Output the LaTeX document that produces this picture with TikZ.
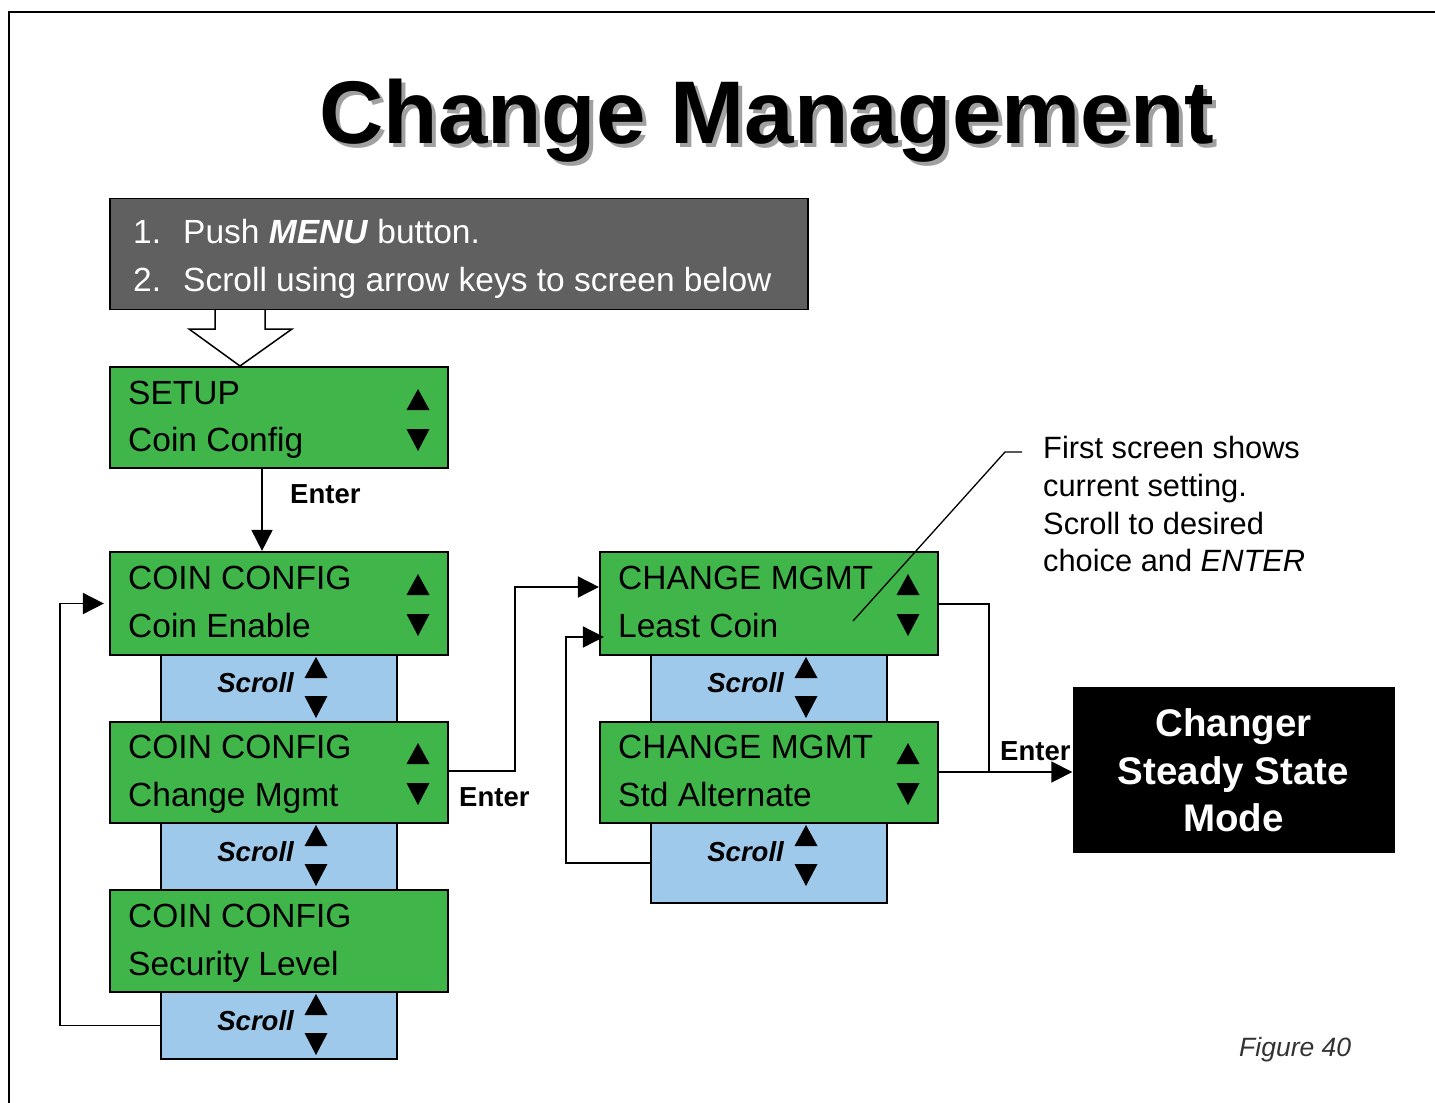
\documentclass[tikz,border=0pt]{standalone}
\usepackage{fontspec}
\setmainfont{Liberation Sans}
\usetikzlibrary{arrows.meta,calc}
\definecolor{lcdgreen}{RGB}{64,181,74}
\definecolor{scrollblue}{RGB}{159,201,235}
\definecolor{stepgray}{RGB}{96,96,96}
\definecolor{shadowgray}{RGB}{160,160,160}
\newcommand\uptri[2]{\fill (#1-11.5,#2+21) -- (#1+11.5,#2+21) -- (#1,#2) -- cycle;}
\newcommand\dntri[2]{\fill (#1-11.5,#2) -- (#1+11.5,#2) -- (#1,#2+22) -- cycle;}
\tikzset{
  lcdbox/.style={draw=black, line width=2.2pt, fill=lcdgreen, minimum width=338pt, inner sep=0pt},
  scrollbox/.style={draw=black, line width=1.8pt, fill=scrollblue, minimum width=236pt, inner sep=0pt},
  lcdtxt/.style={anchor=base west, inner sep=0pt, font=\fontsize{33.5}{40}\selectfont},
  scrolltxt/.style={anchor=base east, inner sep=0pt, font=\fontsize{27.5}{32}\selectfont\bfseries\itshape},
  entertxt/.style={anchor=base west, inner sep=0pt, font=\fontsize{27.5}{32}\selectfont\bfseries},
  conn/.style={draw=black, line width=1.8pt},
  arr/.style={conn, -{Triangle[length=21pt,width=21pt]}},
}
\begin{document}
\begin{tikzpicture}[x=1pt,y=-1pt]
\useasboundingbox (0,0) rectangle (1435,1103);
% frame
\draw[line width=1.8pt] (1435,12) -- (9,12) -- (9,1103);
% title
\node[anchor=base, inner sep=0pt, text=shadowgray, font=\fontsize{89}{100}\selectfont\bfseries] at (771,147) {Change Management};
\node (title) [anchor=base, inner sep=0pt, font=\fontsize{89}{100}\selectfont\bfseries] at (767,143) {Change Management};
% instruction box
\node (steps) [draw=black, line width=1.8pt, fill=stepgray, minimum width=698pt, minimum height=111pt, inner sep=0pt] at (459,254) {};
\node (s1n) [anchor=base west, inner sep=0pt, text=white, font=\fontsize{33.5}{40}\selectfont] at (133,243) {1.};
\node (s1t) [anchor=base west, inner sep=0pt, text=white, font=\fontsize{33.5}{40}\selectfont] at (183,243) {Push \textbf{\textit{MENU}} button.};
\node (s2n) [anchor=base west, inner sep=0pt, text=white, font=\fontsize{33.5}{40}\selectfont] at (133,291) {2.};
\node (s2t) [anchor=base west, inner sep=0pt, text=white, font=\fontsize{33.5}{40}\selectfont] at (183,291) {Scroll using arrow keys to screen below};
% hollow arrow
\draw[line width=1.5pt, fill=white] (215,310) -- (215,329) -- (189,329) -- (240,366) -- (292,329) -- (265,329) -- (265,310);
% scroll boxes (behind)
\node (b1) [scrollbox, minimum height=67pt] at (279,688.5) {};
\node (b2) [scrollbox, minimum height=67pt] at (279,856.5) {};
\node (b3) [scrollbox, minimum height=67pt] at (279,1025.5) {};
\node (b4) [scrollbox, minimum height=67pt] at (769,688.5) {};
\node (b5) [scrollbox, minimum height=80pt] at (769,863) {};
% lcd boxes
\node (setup) [lcdbox, minimum height=101pt] at (279,417.5) {};
\node (ce) [lcdbox, minimum height=103pt] at (279,603.5) {};
\node (cm) [lcdbox, minimum height=101pt] at (279,772.5) {};
\node (sl) [lcdbox, minimum height=102pt] at (279,941) {};
\node (lc) [lcdbox, minimum height=103pt] at (769,603.5) {};
\node (sa) [lcdbox, minimum height=101pt] at (769,772.5) {};
% lcd texts
\node (t1a) [lcdtxt] at (128,404) {SETUP};
\node (t1b) [lcdtxt] at (128,451) {Coin Config};
\node (t2a) [lcdtxt] at (128,589) {COIN CONFIG};
\node (t2b) [lcdtxt] at (128,637) {Coin Enable};
\node (t3a) [lcdtxt] at (128,758) {COIN CONFIG};
\node (t3b) [lcdtxt] at (128,806) {Change Mgmt};
\node (t4a) [lcdtxt] at (128,927) {COIN CONFIG};
\node (t4b) [lcdtxt] at (128,975) {Security Level};
\node (t5a) [lcdtxt] at (618,589) {CHANGE MGMT};
\node (t5b) [lcdtxt] at (618,637) {Least Coin};
\node (t6a) [lcdtxt] at (618,758) {CHANGE MGMT};
\node (t6b) [lcdtxt] at (618,806) {Std Alternate};
% lcd triangles
\uptri{418}{389}\dntri{418}{429}
\uptri{418}{574}\dntri{418}{614}
\uptri{418}{743}\dntri{418}{783}
\uptri{908}{574}\dntri{908}{614}
\uptri{908}{743}\dntri{908}{783}
% scroll texts and triangles
\node (sc1) [scrolltxt] at (294,692) {Scroll};
\node (sc2) [scrolltxt] at (294,861) {Scroll};
\node (sc3) [scrolltxt] at (294,1030) {Scroll};
\node (sc4) [scrolltxt] at (784,692) {Scroll};
\node (sc5) [scrolltxt] at (784,861) {Scroll};
\uptri{316}{657}\dntri{316}{696}
\uptri{316}{825}\dntri{316}{864}
\uptri{316}{994}\dntri{316}{1033}
\uptri{806}{657}\dntri{806}{696}
\uptri{806}{825}\dntri{806}{864}
% connectors
\draw[arr] (setup.south -| 262,0) -- (ce.north -| 262,0);
\node (e1) [entertxt] at (290,503) {Enter};
\draw[arr, shorten >=5pt] (b3.west) -- (60,1025.5) -- (60,603.5) -- (ce.west);
\draw[arr] (cm.east |- 0,771) -- (515,771) -- (515,587) -- (lc.west |- 0,587);
\node (e2) [entertxt] at (459,806) {Enter};
\draw[arr, shorten >=-5pt] (b5.west) -- (566,863) -- (566,637) -- (lc.west |- 0,637);
% steady state box
\node (ss) [fill=black, minimum width=322pt, minimum height=166pt, inner sep=0pt] at (1233.5,770) {};
\node (ss1) [anchor=base, inner sep=0pt, text=white, font=\fontsize{38.5}{46}\selectfont\bfseries] at (1233.5,736) {Changer};
\node (ss2) [anchor=base, inner sep=0pt, text=white, font=\fontsize{38.5}{46}\selectfont\bfseries] at (1233.5,784) {Steady State};
\node (ss3) [anchor=base, inner sep=0pt, text=white, font=\fontsize{38.5}{46}\selectfont\bfseries] at (1233.5,831) {Mode};
\draw[conn] (lc.east |- 0,604) -- (989,604) -- (989,772);
\draw[arr] (sa.east |- 0,772) -- (ss.west |- 0,772);
\node (e3) [entertxt] at (1000,760) {Enter};
% annotation
\coordinate (callout) at (853,621);
\draw[line width=1.3pt] (callout) -- (1005,452) -- (1022,452);
\node (n1) [anchor=base west, inner sep=0pt, font=\fontsize{30.8}{37}\selectfont] at (1043,458) {First screen shows};
\node (n2) [anchor=base west, inner sep=0pt, font=\fontsize{30.8}{37}\selectfont] at (1043,496) {current setting.};
\node (n3) [anchor=base west, inner sep=0pt, font=\fontsize{30.8}{37}\selectfont] at (1043,534) {Scroll to desired};
\node (n4) [anchor=base west, inner sep=0pt, font=\fontsize{30.8}{37}\selectfont] at (1043,571) {choice and \textit{ENTER}};
% figure label
\node (fig) [anchor=base west, inner sep=0pt, text=black!80, font=\fontsize{26.5}{32}\selectfont\itshape] at (1239,1056) {Figure 40};
\end{tikzpicture}
\end{document}
